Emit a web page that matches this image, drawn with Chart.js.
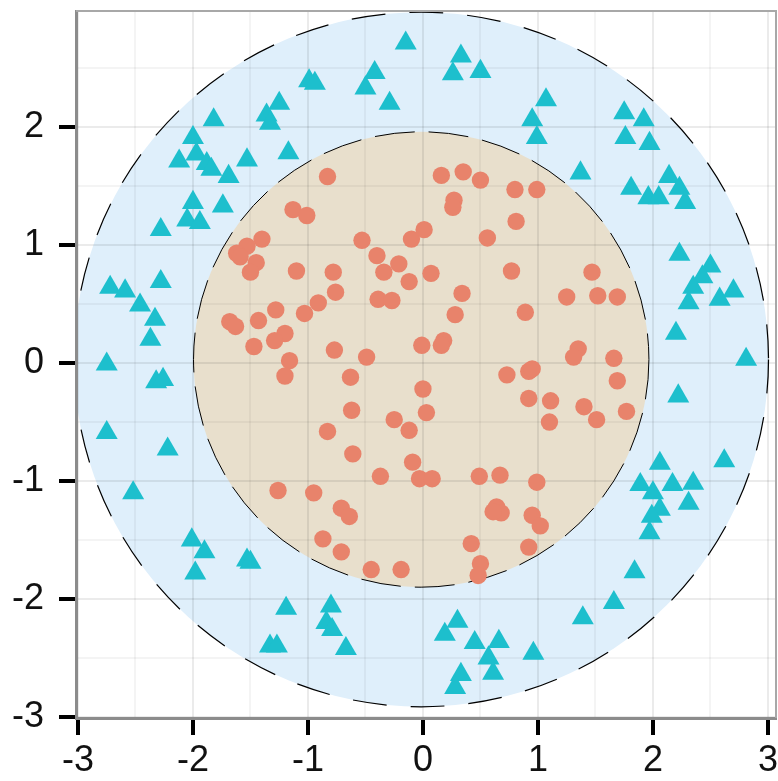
<!DOCTYPE html>
<html>
<head>
<meta charset="utf-8">
<script src="https://cdn.jsdelivr.net/npm/chart.js@4"></script>
<style>
  html, body { margin: 0; padding: 0; background: #fff; overflow: hidden; }
  #wrap { width: 778px; height: 781px; }
</style>
</head>
<body>
<div id="wrap"><canvas id="chart"></canvas></div>
<script>
// inner class (circles)
const circleX = [-0.83, -1.13, -1.01, -1.40, -1.53, -1.62, -1.59, -1.45, -1.50, -1.10, -0.78, -0.76, -0.91, -1.03, -1.28,
  -1.68, -1.63, -1.43, -1.20, -1.29, -1.47, -1.16, -0.77, -0.49, -0.53, -0.40, -0.21, -0.34, -0.12, -0.39, -0.27, -0.10,
  0.01, 0.07, -0.01,
  0.16, 0.35, 0.50, 0.27, 0.26, 0.80, 0.99, 0.81, 0.56, 0.77, 1.47, 0.34, 1.25, 1.52, 1.69, 0.28, 0.89, 0.18, 0.16, 1.35,
  1.31, 1.66,
  -1.20, -0.63, 0.00, -0.62, -0.83, -0.25, -0.12, 0.03, -0.61, -0.09, -0.37, -0.03, -1.26, -0.95, -0.71, -0.64, -0.87,
  -0.71, -0.45, -0.19,
  0.08, 0.73, 0.92, 0.95, 1.69, 0.92, 1.11, 1.40, 1.51, 1.77, 1.10, 0.49, 0.67, 0.99, 0.64, 0.68, 0.61, 0.95, 1.02, 0.42,
  0.92, 0.50, 0.48];
const circleY = [1.58, 1.30, 1.25, 1.05, 0.99, 0.93, 0.90, 0.85, 0.77, 0.78, 0.77, 0.60, 0.51, 0.42, 0.45,
  0.35, 0.31, 0.36, 0.25, 0.19, 0.14, 0.02, 0.11, 0.05, 1.04, 0.91, 0.84, 0.77, 0.69, 0.54, 0.53, 1.05,
  1.13, 0.76, 0.15,
  1.59, 1.62, 1.55, 1.38, 1.32, 1.47, 1.47, 1.20, 1.06, 0.78, 0.77, 0.59, 0.56, 0.57, 0.56, 0.41, 0.43, 0.19, 0.15, 0.12,
  0.05, 0.04,
  -0.11, -0.12, -0.22, -0.40, -0.58, -0.48, -0.57, -0.42, -0.77, -0.84, -0.96, -0.98, -1.08, -1.10, -1.23, -1.30, -1.49,
  -1.60, -1.75, -1.75,
  -0.98, -0.10, -0.07, -0.05, -0.15, -0.30, -0.32, -0.37, -0.48, -0.41, -0.50, -0.96, -0.95, -1.01, -1.22, -1.27, -1.26,
  -1.29, -1.38, -1.53, -1.56, -1.70, -1.80];

// outer class (triangles)
const triangleX = [-1.82, -2.00, -1.97, -2.12, -1.88, -1.84, -1.69, -1.53, -2.00, -1.74, -2.05, -1.94, -2.28,
  -0.15, 0.33, 0.26, 0.50, -0.42, -0.50, -0.29, -0.99, -0.94, -1.25, -1.36, -1.33, -1.17,
  1.07, 0.95, 0.99, 1.37, 1.75, 1.92, 1.76, 1.97, 2.14, 2.23, 1.81, 1.96, 2.05, 2.28,
  2.23, 2.50, 2.43, 2.35, 2.31, 2.58, 2.70, 2.20, 2.81, 2.22, 2.62, 2.06, 1.89, 2.00, 2.17, 2.35, 2.31, 2.06, 1.99,
  1.97, 1.84, 1.66, 1.39, 0.96,
  -1.19, -0.80, -0.84, -0.79, -0.67, -1.33, -1.27, 0.30, 0.19, 0.45, 0.66, 0.57, 0.61, 0.33, 0.28,
  -2.01, -1.90, -1.98, -1.53, -1.50,
  -2.72, -2.59, -2.28, -2.46, -2.33, -2.37, -2.75, -2.32, -2.26, -2.75, -2.22, -2.52];
const triangleY = [2.06, 1.91, 1.77, 1.71, 1.69, 1.64, 1.58, 1.72, 1.36, 1.33, 1.21, 1.19, 1.13,
  2.71, 2.60, 2.45, 2.47, 2.46, 2.33, 2.20, 2.39, 2.37, 2.20, 2.10, 2.03, 1.78,
  2.23, 2.06, 1.91, 1.61, 2.12, 2.06, 1.91, 1.86, 1.58, 1.48, 1.48, 1.40, 1.40, 1.36,
  0.92, 0.82, 0.73, 0.64, 0.51, 0.54, 0.61, 0.25, 0.03, -0.28, -0.83, -0.85, -1.03, -1.10, -1.03, -1.02, -1.19, -1.24, -1.30,
  -1.44, -1.77, -2.03, -2.16, -2.46,
  -2.08, -2.06, -2.20, -2.26, -2.42, -2.40, -2.40, -2.19, -2.30, -2.37, -2.36, -2.50, -2.63, -2.64, -2.75,
  -1.50, -1.60, -1.78, -1.67, -1.69,
  0.64, 0.61, 0.69, 0.49, 0.37, 0.20, -0.01, -0.16, -0.14, -0.59, -0.73, -1.10];

const tickValues = [-3, -2, -1, 0, 1, 2, 3];

// background discs (data units, along x)
const ringCenter = { x: -0.015, y: 0.03 };
const innerRadius = 1.98;
const outerRadius = 3.02;

const toPoints = (xs, ys) => xs.map((x, i) => ({ x: x, y: ys[i] }));

const isMajor = v => tickValues.some(t => Math.abs(t - v) < 1e-6);

const discs = {
  id: 'discs',
  beforeDraw(chart) {
    const { ctx, chartArea, scales } = chart;
    ctx.save();
    ctx.fillStyle = '#fff';
    ctx.fillRect(0, 0, chart.width, chart.height);
    ctx.beginPath();
    ctx.rect(chartArea.left, chartArea.top, chartArea.right - chartArea.left, chartArea.bottom - chartArea.top);
    ctx.clip();
    const cx = scales.x.getPixelForValue(ringCenter.x);
    const cy = scales.y.getPixelForValue(ringCenter.y);
    const unit = scales.x.getPixelForValue(1) - scales.x.getPixelForValue(0);

    ctx.beginPath();
    ctx.arc(cx, cy, outerRadius * unit, 0, Math.PI * 2);
    ctx.fillStyle = '#dfeffb';
    ctx.fill();
    ctx.setLineDash([34, 24]);
    ctx.lineWidth = 1.2;
    ctx.strokeStyle = '#000';
    ctx.stroke();

    ctx.beginPath();
    ctx.arc(cx, cy, innerRadius * unit, 0, Math.PI * 2);
    ctx.fillStyle = '#e8dfcc';
    ctx.fill();
    ctx.setLineDash([40, 14]);
    ctx.lineWidth = 1;
    ctx.stroke();
    ctx.restore();
  },
  afterDraw(chart) {
    const { ctx, chartArea } = chart;
    ctx.save();
    ctx.strokeStyle = '#a8a8a8';
    ctx.lineWidth = 2;
    ctx.beginPath();
    ctx.moveTo(chartArea.left, chartArea.top);
    ctx.lineTo(chartArea.right, chartArea.top);
    ctx.lineTo(chartArea.right, chartArea.bottom);
    ctx.stroke();
    ctx.restore();
  }
};

const gridOpts = {
  color: c => isMajor(c.tick.value) ? 'rgba(0,0,0,0.08)' : 'rgba(0,0,0,0.045)',
  lineWidth: 2,
  tickLength: 17,
  tickWidth: 4,
  tickColor: c => isMajor(c.tick.value) ? '#000' : 'rgba(0,0,0,0)'
};

const tickFont = { family: 'Liberation Sans, Arial, sans-serif', size: 36 };
const tickLabel = v => isMajor(v) ? String(Math.round(v)) : '';

new Chart(document.getElementById('chart'), {
  type: 'scatter',
  data: {
    datasets: [
      {
        label: 'inner',
        data: toPoints(circleX, circleY),
        pointStyle: 'circle',
        pointRadius: 8.7,
        backgroundColor: '#e8836b',
        borderWidth: 0
      },
      {
        label: 'outer',
        data: toPoints(triangleX, triangleY),
        pointStyle: 'triangle',
        pointRadius: 12.7,
        backgroundColor: '#1dbfcd',
        borderWidth: 0
      }
    ]
  },
  options: {
    responsive: true,
    maintainAspectRatio: false,
    animation: false,
    layout: { autoPadding: false, padding: { top: 11, right: 2, left: 0, bottom: 0 } },
    plugins: { legend: { display: false }, tooltip: { enabled: false } },
    scales: {
      x: {
        type: 'linear',
        min: -3.017,
        max: 3.07,
        afterFit: s => { s.height = 63; s.paddingLeft = 0; s.paddingRight = 0; },
        grid: gridOpts,
        border: { color: '#8c8c8c', width: 3 },
        ticks: {
          stepSize: 0.5,
          includeBounds: false,
          autoSkip: false,
          maxRotation: 0,
          padding: 4,
          color: '#111',
          font: tickFont,
          callback: tickLabel
        }
      },
      y: {
        type: 'linear',
        min: -3.008,
        max: 2.983,
        afterFit: s => { s.width = 76; s.paddingTop = 0; s.paddingBottom = 0; },
        grid: gridOpts,
        border: { color: '#8c8c8c', width: 3 },
        ticks: {
          stepSize: 0.5,
          includeBounds: false,
          autoSkip: false,
          padding: 15,
          color: '#111',
          font: tickFont,
          callback: tickLabel
        }
      }
    }
  },
  plugins: [discs]
});
</script>
</body>
</html>
